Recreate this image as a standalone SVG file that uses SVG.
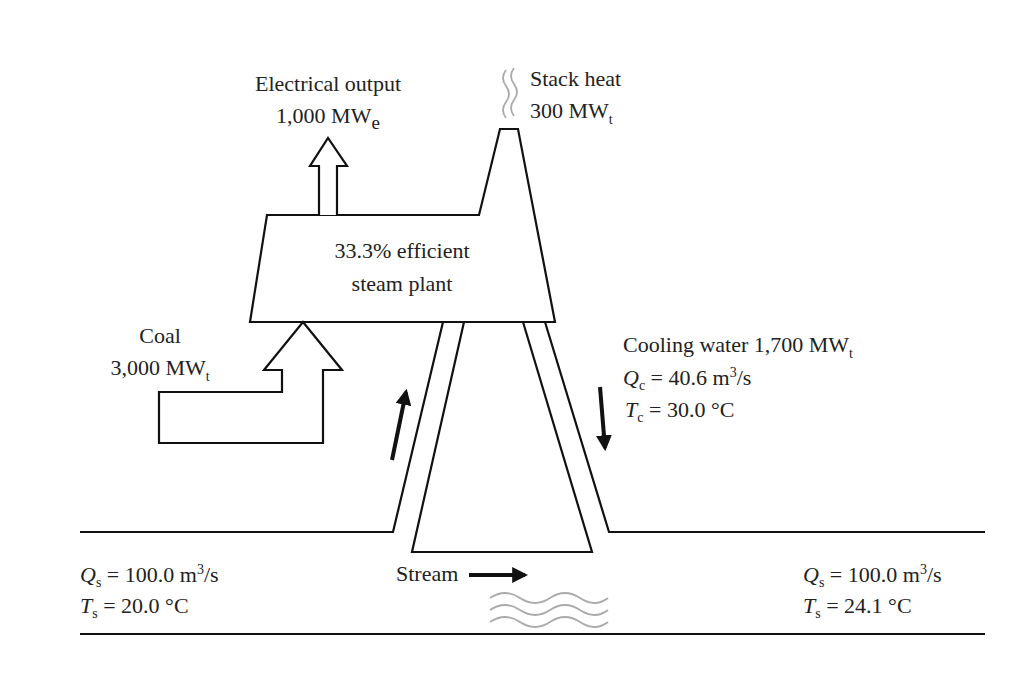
<svg xmlns="http://www.w3.org/2000/svg" width="1024" height="687" viewBox="0 0 1024 687">
<style>
.s{fill:none;stroke:#111;stroke-width:2.2;stroke-linejoin:miter}
.w{fill:#fff;stroke:#111;stroke-width:2.2}
.g{fill:none;stroke:#aaa;stroke-width:1.8}
.a{stroke:#111;stroke-width:4;fill:none}
text{font-family:"Liberation Serif",serif;font-size:22px;fill:#222}
.i{font-style:italic}
.sub{font-size:14px}
</style>
<defs>
<marker id="h" viewBox="0 0 10 10" refX="8" refY="5" markerWidth="4" markerHeight="4" orient="auto"><path d="M0,0L10,5L0,10z" fill="#111"/></marker>
</defs>
<rect width="1024" height="687" fill="#fff"/>
<g id="plant">
<path class="w" d="M267,215H479L500,129H518L555,322H250Z"/>
<text x="402" y="258" text-anchor="middle">33.3% efficient</text>
<text x="402" y="291" text-anchor="middle">steam plant</text>
</g>
<g id="smoke">
<path class="g" d="M506,70q-6,8 0,16t0,16t0,16"/>
<path class="g" d="M514,68q-6,8 0,16t0,16t0,16"/>
<text x="530" y="86">Stack heat</text>
<text x="530" y="118">300 MW<tspan class="sub" dy="6">t</tspan></text>
</g>
<g id="electrical">
<path class="w" d="M319,215V166H310L328,138L347,166H337V215"/>
<text x="328" y="91" text-anchor="middle">Electrical output</text>
<text x="328" y="123" text-anchor="middle">1,000 MW<tspan dy="6" font-size="19">e</tspan></text>
</g>
<g id="coal">
<path class="w" d="M303,322L342,370H323V443H159V392H282V370H264Z"/>
<text x="160" y="343" text-anchor="middle">Coal</text>
<text x="160" y="375" text-anchor="middle">3,000 MW<tspan class="sub" dy="6">t</tspan></text>
</g>
<g id="cooling">
<path class="s" d="M80,532H393L443,322"/>
<path class="s" d="M464,322L412,552H592L523,322"/>
<path class="s" d="M545,322L609,532H985"/>
<path class="s" d="M80,634H985"/>
<text x="623" y="352">Cooling water 1,700 MW<tspan class="sub" dy="6">t</tspan></text>
<text x="623" y="385"><tspan class="i">Q</tspan><tspan class="sub" dy="5">c</tspan><tspan dy="-5"> = 40.6 m</tspan><tspan class="sub" dy="-8">3</tspan><tspan dy="8">/s</tspan></text>
<text x="625" y="417"><tspan class="i">T</tspan><tspan class="sub" dy="5">c</tspan><tspan dy="-5"> = 30.0 °C</tspan></text>
</g>
<g id="stream">
<text x="80" y="582"><tspan class="i">Q</tspan><tspan class="sub" dy="5">s</tspan><tspan dy="-5"> = 100.0 m</tspan><tspan class="sub" dy="-8">3</tspan><tspan dy="8">/s</tspan></text>
<text x="80" y="613"><tspan class="i">T</tspan><tspan class="sub" dy="5">s</tspan><tspan dy="-5"> = 20.0 °C</tspan></text>
<text x="803" y="582"><tspan class="i">Q</tspan><tspan class="sub" dy="5">s</tspan><tspan dy="-5"> = 100.0 m</tspan><tspan class="sub" dy="-8">3</tspan><tspan dy="8">/s</tspan></text>
<text x="803" y="613"><tspan class="i">T</tspan><tspan class="sub" dy="5">s</tspan><tspan dy="-5"> = 24.1 °C</tspan></text>
<text x="396" y="581">Stream</text>
<path class="g" d="M490,598q15,-10 30,0t30,0t30,0t28,0"/>
<path class="g" d="M490,610q15,-10 30,0t30,0t30,0t28,0"/>
<path class="g" d="M490,622q15,-10 30,0t30,0t30,0t28,0"/>
</g>
<g id="connectors">
<path class="a" d="M392,460L406,392" marker-end="url(#h)"/>
<path class="a" d="M600,387L605,448" marker-end="url(#h)"/>
<path class="a" d="M469,575H525" marker-end="url(#h)"/>
</g>
</svg>
